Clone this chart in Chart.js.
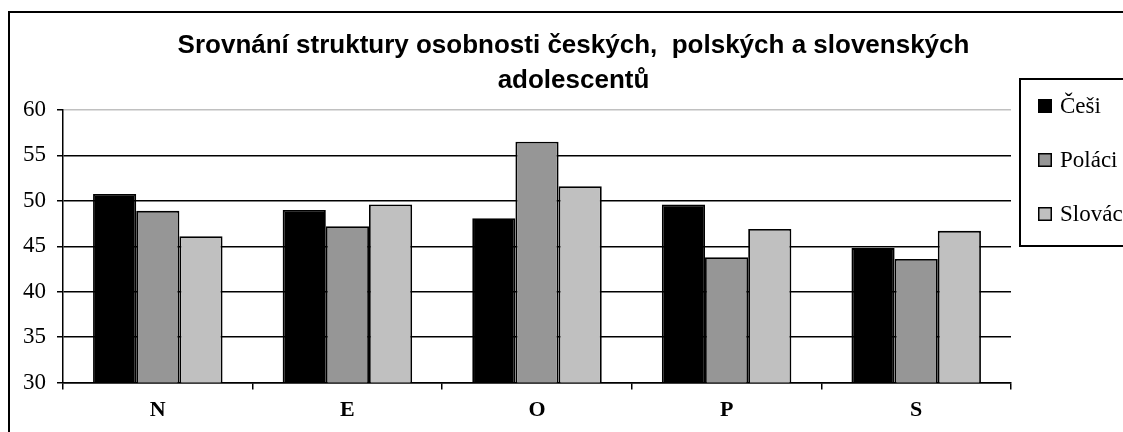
<!DOCTYPE html>
<html>
<head>
<meta charset="utf-8">
<script src="https://cdn.jsdelivr.net/npm/chart.js@4/dist/chart.umd.min.js"></script>
<style>
  html, body { margin: 0; padding: 0; background: #fff; overflow: hidden; }
  #wrap { width: 1138px; height: 432px; }
</style>
</head>
<body>
<div id="wrap"><canvas id="c" width="1138" height="432"></canvas></div>
<script>
const titleLines = ['Srovnání struktury osobnosti českých,  polských a slovenských', 'adolescentů'];
const categories = ['N', 'E', 'O', 'P', 'S'];
const seriesNames = ['Češi', 'Poláci', 'Slováci'];
const cesi = [50.75, 49.0, 48.1, 49.6, 44.8];
const polaci = [48.9, 47.2, 56.5, 43.8, 43.6];
const slovaci = [46.1, 49.6, 51.6, 46.9, 46.7];
const yMin = 30, yMax = 60, yStep = 5;

const seriesColors = ['#000000', '#969696', '#c0c0c0'];

const frameAndLegend = {
  id: 'frameAndLegend',
  afterDraw(chart) {
    const ctx = chart.ctx;
    ctx.save();
    ctx.strokeStyle = '#000';
    ctx.lineWidth = 2;
    ctx.strokeRect(9, 12, 1300, 600);
    // legend box
    ctx.fillStyle = '#fff';
    ctx.fillRect(1020, 79, 300, 167);
    ctx.strokeRect(1020, 79, 300, 167);
    ctx.font = '23px "Liberation Serif", "Times New Roman", serif';
    ctx.textBaseline = 'alphabetic';
    chart.data.datasets.forEach((ds, i) => {
      const base = 113 + i * 54;
      ctx.fillStyle = ds.backgroundColor;
      ctx.fillRect(1038, base - 14, 14, 14);
      ctx.lineWidth = 1.5;
      ctx.strokeStyle = '#000';
      ctx.strokeRect(1038.75, base - 13.25, 12.5, 12.5);
      ctx.fillStyle = '#000';
      ctx.fillText(ds.label, 1060, base);
    });
    ctx.restore();
  }
};

new Chart(document.getElementById('c'), {
  type: 'bar',
  data: {
    labels: categories,
    datasets: [
      { label: seriesNames[0], data: cesi, backgroundColor: seriesColors[0], borderColor: '#000', borderWidth: 1.8 },
      { label: seriesNames[1], data: polaci, backgroundColor: seriesColors[1], borderColor: '#000', borderWidth: 1.8 },
      { label: seriesNames[2], data: slovaci, backgroundColor: seriesColors[2], borderColor: '#000', borderWidth: 1.8 }
    ]
  },
  options: {
    responsive: false,
    animation: false,
    devicePixelRatio: 1,
    layout: { padding: { left: 9, right: 0, top: 0, bottom: 0 } },
    datasets: { bar: { categoryPercentage: 0.683, barPercentage: 1.0 } },
    plugins: {
      legend: { display: false },
      tooltip: { enabled: false },
      title: {
        display: true,
        text: titleLines,
        color: '#000',
        font: { family: '"Liberation Sans", Arial, sans-serif', size: 26, weight: 'bold', lineHeight: 35 / 26 },
        padding: { top: 28, bottom: 12 }
      }
    },
    scales: {
      x: {
        grid: { display: true, drawOnChartArea: false, drawTicks: true, tickLength: 7, color: '#000', lineWidth: 1.5, offset: true },
        border: { display: true, color: '#000', width: 1.5 },
        ticks: { color: '#000', padding: 8, font: { family: '"Liberation Serif", "Times New Roman", serif', size: 22, weight: 'bold' } }
      },
      y: {
        min: yMin, max: yMax,
        afterFit(scale) { scale.width = 54; },
        grid: {
          color: (c) => (c.tick && c.tick.value === yMax) ? '#c0c0c0' : '#000',
          tickColor: '#000',
          lineWidth: 1.5,
          tickLength: 6
        },
        border: { display: true, color: '#000', width: 1.5 },
        ticks: { stepSize: yStep, color: '#000', padding: 11, font: { family: '"Liberation Serif", "Times New Roman", serif', size: 23 } }
      },
      yr: {
        type: 'linear',
        position: 'right',
        display: true,
        afterFit(scale) { scale.width = 127; },
        grid: { display: false },
        border: { display: false },
        ticks: { display: false }
      }
    }
  },
  plugins: [frameAndLegend]
});
</script>
</body>
</html>
